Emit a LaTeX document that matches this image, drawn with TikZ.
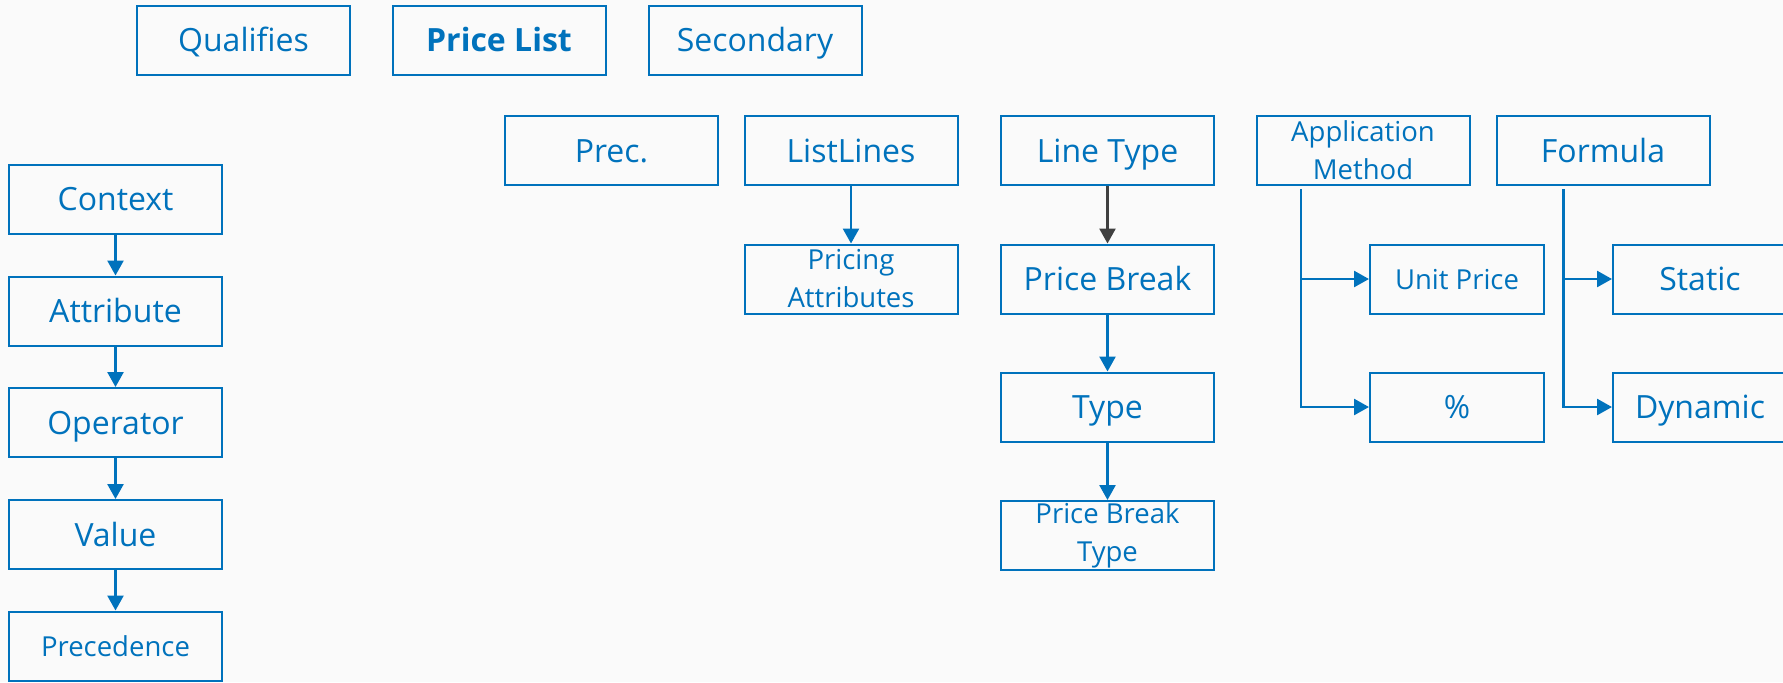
\documentclass[tikz,border=0pt]{standalone}
\usepackage{fontspec}
\setmainfont{Open Sans}
\usepackage{tikz}
\usetikzlibrary{arrows.meta, positioning, calc}

\definecolor{boxblue}{RGB}{0,114,188}
\definecolor{arrowgray}{RGB}{64,64,64}
\definecolor{bggray}{RGB}{250,250,250}

\begin{document}
\begin{tikzpicture}[
        x=0.5pt, y=-0.5pt,
        box/.style={
            rectangle,
            draw=boxblue,
            line width=1pt,
            minimum width=106.5pt,
            minimum height=34.5pt,
            inner sep=0pt,
            align=center,
            text=boxblue,
            text height=11.7pt,
            text depth=0pt,
            font=\fontsize{16}{19}\selectfont
        },
        small box/.style={
            box,
            text height=10pt,
            font=\fontsize{13.75}{19}\selectfont
        },
        two line box/.style={
            small box,
            text height=,
            text depth=
        },
        narrow box/.style={
            box,
            minimum width=87pt
        },
        arrow/.style={-{Triangle[width=8pt,length=7.5pt]},line width=1.3pt,draw=boxblue},
        dark arrow/.style={arrow,draw=arrowgray}
    ]

    % background
    \fill[bggray] (0,0) rectangle (1783,682);
    \clip (0,0) rectangle (1783,682);

    % top row
    \node[box] (Qualifies) at (243.5,40) {Qualifies};
    \node[box] (PriceList) at (499,40) {\bfseries Price List};
    \node[box] (Secondary) at (755,40) {Secondary};

    % qualifier chain
    \foreach \name/\y/\st in {Context/199/box,Attribute/311/box,Operator/422.5/box,Value/534.5/box,Precedence/646/small box} {
        \node[\st] (\name) at (115.5,\y) {\name};
    }
    \foreach \a/\b in {Context/Attribute,Attribute/Operator,Operator/Value,Value/Precedence} {
        \draw[arrow] (\a) -- (\b);
    }

    % list line columns
    \node[box] (Prec) at (611.5,150.5) {Prec.};
    \node[box] (ListLines) at (851,150.5) {ListLines};
    \node[two line box] (PricingAttr) at (851,279) {Pricing\\Attributes};
    \draw[arrow] (ListLines) -- (PricingAttr);

    \node[box] (LineType) at (1107.5,150.5) {Line Type};
    \node[box] (PriceBreak) at (1107.5,279) {Price Break};
    \node[box] (Type) at (1107.5,407) {Type};
    \node[two line box] (PBType) at (1107.5,535.5) {Price Break\\Type};
    \draw[dark arrow] (LineType) -- (PriceBreak);
    \draw[arrow] (PriceBreak) -- (Type);
    \draw[arrow] (Type) -- (PBType);

    % application method branches
    \node[two line box] (AppMethod) at (1363,150.5) {Application\\Method};
    \node[narrow box,text height=10pt,font=\fontsize{13.75}{19}\selectfont] (UnitPrice) at (1457,279) {Unit Price};
    \node[narrow box] (Percent) at (1457,407) {\%};
    \coordinate (AMtrunk) at ($(AppMethod.south west)+(45.5,3)$);
    \draw[arrow] (AMtrunk) |- (UnitPrice.west);
    \draw[arrow] (AMtrunk) |- (Percent.west);

    % formula branches
    \node[box] (Formula) at (1603,150.5) {Formula};
    \node[narrow box] (Static) at (1700,279) {Static};
    \node[narrow box] (Dynamic) at (1700,407) {Dynamic};
    \coordinate (FMtrunk) at ($(Formula.south west)+(68,3)$);
    \draw[arrow] (FMtrunk) |- (Static.west);
    \draw[arrow] (FMtrunk) |- (Dynamic.west);

\end{tikzpicture}
\end{document}
